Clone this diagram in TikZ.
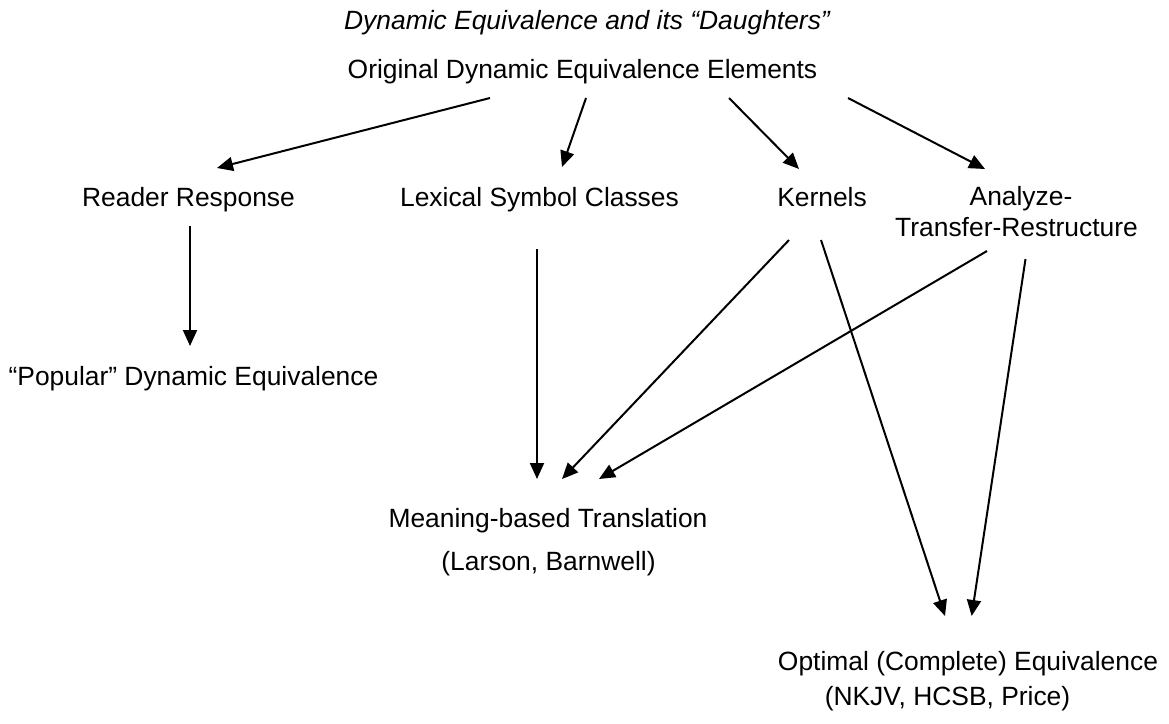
\documentclass[tikz,border=0pt]{standalone}
\usepackage{fontspec}
\setmainfont{Liberation Sans}
\usetikzlibrary{arrows.meta,calc}
\tikzset{
  lbl/.style={anchor=base,inner sep=0pt,outer sep=0pt,font=\fontsize{26.4pt}{30pt}\selectfont},
  ttl/.style={lbl,font=\fontsize{26.4pt}{30pt}\selectfont\itshape},
  arr/.style={line width=2pt,-{Triangle[width=14pt,length=16pt]}}
}
\begin{document}
\begin{tikzpicture}[x=1pt,y=-1pt]
\useasboundingbox[fill=white] (0,0) rectangle (1169,723);
% labels
\node[ttl] (title) at (587,29) {Dynamic Equivalence and its “Daughters”};
\node[lbl] (orig) at (582.5,78) {Original Dynamic Equivalence Elements};
\node[lbl] (rr) at (188.5,206) {Reader Response};
\node[lbl] (lex) at (539.5,206) {Lexical Symbol Classes};
\node[lbl] (ker) at (822,206) {Kernels};
\node[lbl] (atr1) at (1021,205) {Analyze-};
\node[lbl] (atr2) at (1016.5,236) {Transfer-Restructure};
\node[lbl] (pop) at (193.5,385) {“Popular” Dynamic Equivalence};
\node[lbl] (mean) at (548,527) {Meaning-based Translation};
\node[lbl] (mean2) at (548.5,570) {(Larson, Barnwell)};
\node[lbl] (opt) at (968,670) {Optimal (Complete) Equivalence};
\node[lbl] (opt2) at (947.5,705) {(NKJV, HCSB, Price)};
% connectors
\draw[arr] ($(orig.base)+(-92.5,20)$) -- ($(rr.base)+(28.5,-38)$);
\draw[arr] ($(orig.base)+(3.5,20)$) -- ($(lex.base)+(22.5,-39)$);
\draw[arr] ($(orig.base)+(146.5,20)$) -- ($(ker.base)+(-23,-37)$);
\draw[arr] ($(orig.base)+(265.5,20)$) -- ($(atr1.base)+(-36,-36)$);
\draw[arr] ($(rr.base)+(1.5,20)$) -- ($(pop.base)+(-3.5,-39)$);
\draw[arr] ($(lex.base)+(-2.5,43)$) -- ($(mean.base)+(-11,-48)$);
\draw[arr] ($(ker.base)+(-33,34)$) -- ($(mean.base)+(14,-48)$);
\draw[arr] ($(atr2.base)+(-29.5,15)$) -- ($(mean.base)+(51,-48)$);
\draw[arr] ($(ker.base)+(-1,34)$) -- ($(opt.base)+(-23,-54)$);
\draw[arr] ($(atr2.base)+(9,23)$) -- ($(opt.base)+(3.6,-54)$);
\end{tikzpicture}
\end{document}
